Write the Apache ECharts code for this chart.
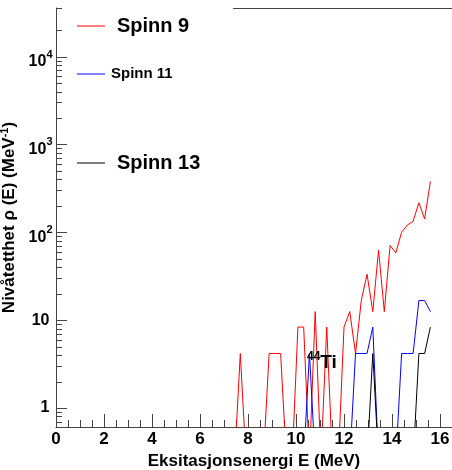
<!DOCTYPE html>
<html><head><meta charset="utf-8">
<script src="https://cdn.jsdelivr.net/npm/echarts@6/dist/echarts.min.js"></script>
<style>html,body{margin:0;padding:0;background:#fff}#c{width:452px;height:470px}</style>
</head><body><div id="c"></div>
<script>
// Bin centres (MeV)
const energy = [7.20,7.44,7.68,7.92,8.16,8.40,8.64,8.88,9.12,9.36,9.60,9.84,10.08,10.32,10.56,10.80,11.04,11.28,11.52,11.76,12.00,12.24,12.48,12.72,12.96,13.20,13.44,13.68,13.92,14.16,14.40,14.64,14.88,15.12,15.36,15.60];
// Level density (MeV^-1), 0 = empty bin
const spin9  = [0,0,4.17,0,0,0,0,4.17,4.17,4.17,0,0,8.33,8.33,0,12.5,0,8.33,0,0,8.33,12.5,4.17,16.7,33.3,12.5,62.5,12.5,70.8,58.3,100,120.8,133.3,216.7,141.7,379.2];
const spin11 = [0,0,0,0,0,0,0,0,0,0,0,0,0,0,4.17,0,0,0,0,0,0,0,4.17,4.17,4.17,8.33,0,0,0,0,4.17,4.17,4.17,16.7,16.7,12.5];
const spin13 = [0,0,0,0,0,0,0,0,0,0,0,0,0,0,0,0,0,0,0,0,0,0,0,0,0,4.17,0,0,0,0,0,0,0,4.17,4.17,8.33];
const seriesNames = ['Spinn 9','Spinn 11','Spinn 13'];
const yMajorTicks = [1,10,100,1000,10000];
const yMinorTicks = [0.7,0.8,0.9,2,3,4,5,6,7,8,9,20,30,40,50,60,70,80,90,200,300,400,500,600,700,800,900,2000,3000,4000,5000,6000,7000,8000,9000,20000];
const xTickLabels = [0,2,4,6,8,10,12,14,16];

const FONT = '"Liberation Sans", Arial, sans-serif';
const AXIS = '#444444';
const Y_MIN = 0.607, Y_MAX = 35700;
const EMPTY = 0.25; // empty bins drop below the axis floor (clipped), as in the log-scale histogram

function toData(vals){ return energy.map((e,i)=>[e, vals[i] > 0 ? vals[i] : EMPTY]); }

const chart = echarts.init(document.getElementById('c'), null, {renderer:'canvas'});

function legendCfg(name, top, size, lh, padLeft){
  return {data:[name], left:77, top:top, padding:0, icon:'rect', itemWidth:28, itemHeight:1, selectedMode:false,
    textStyle:{fontFamily:FONT, fontSize:size, fontWeight:'bold', color:'#000', lineHeight:lh, padding:[0,0,0,padLeft]}};
}

// y-axis ticks (log decades and 2..9 sub-ticks) placed through the axis scale
function tickSeries(values, len){
  return {type:'custom', silent:true, clip:false, z:5,
    data: values.map(v => [0, v]),
    renderItem:(params, api) => {
      const p = api.coord([api.value(0), api.value(1)]);
      const y = Math.round(p[1]) + 0.5;
      const x = Math.round(p[0]);
      return {type:'line', shape:{x1:x, y1:y, x2:x + len, y2:y},
        style:{stroke:AXIS, lineWidth:1}};
    }};
}

chart.setOption({
  animation:false,
  backgroundColor:'#fff',
  grid:{left:56, top:8, right:0, bottom:43, containLabel:false, outerBoundsMode:'none'},
  title:{text:'{s|44}{t|Ti}', left:307, top:351, padding:0,
    textStyle:{rich:{
      s:{fontFamily:FONT, fontSize:12, fontWeight:'bold', color:'#000', padding:[0,0,12,0]},
      t:{fontFamily:FONT, fontSize:19, fontWeight:'bold', color:'#000'}
    }}},
  legend:[
    legendCfg(seriesNames[0], 14, 20, 24, 7),
    legendCfg(seriesNames[1], 65, 15, 18, 1),
    legendCfg(seriesNames[2], 151, 20, 24, 7)
  ],
  xAxis:{type:'value', min:0, max:16.5, interval:2,
    name:'Eksitasjonsenergi E (MeV)', nameLocation:'middle', nameGap:23,
    nameTextStyle:{fontFamily:FONT, fontSize:17, fontWeight:'bold', color:'#000'},
    axisLine:{show:true, onZero:false, lineStyle:{color:AXIS, width:1}},
    axisTick:{show:true, inside:true, length:13, lineStyle:{color:AXIS}},
    minorTick:{show:true, splitNumber:4, length:7, lineStyle:{color:AXIS}},
    splitLine:{show:false},
    axisLabel:{fontFamily:FONT, fontSize:17, fontWeight:'bold', color:'#000', margin:4,
      formatter:v => xTickLabels.indexOf(v) >= 0 ? String(v) : ''}
  },
  yAxis:{type:'log', logBase:10, min:Y_MIN, max:Y_MAX, position:'left',
    name:'Nivåtetthet ρ (E) (MeV{sup|-1})', nameLocation:'middle', nameGap:28,
    nameTextStyle:{fontFamily:FONT, fontSize:17, fontWeight:'bold', color:'#000',
      rich:{sup:{fontFamily:FONT, fontSize:11, fontWeight:'bold', color:'#000', padding:[0,0,9,0]}}},
    axisLine:{show:true, onZero:false, lineStyle:{color:AXIS, width:1}},
    axisTick:{show:false},
    splitLine:{show:false},
    axisLabel:{margin:3.5, customValues:yMajorTicks,
      formatter:v => {
        const p = Math.round(Math.log10(v));
        if (p === 0) return '{p|1}';
        if (p === 1) return '{p|10}';
        return '{b|10}{sup|' + p + '}';
      },
      rich:{
        p:{fontFamily:FONT, fontSize:16, fontWeight:'bold', color:'#000', padding:[0,3,0,0]},
        b:{fontFamily:FONT, fontSize:16, fontWeight:'bold', color:'#000', padding:[11,0,0,0]},
        sup:{fontFamily:FONT, fontSize:11, fontWeight:'bold', color:'#000', padding:[0,0,4,0]}
      }}
  },
  graphic:[
    {type:'line', shape:{x1:233, y1:8.5, x2:452, y2:8.5}, style:{stroke:'#444', lineWidth:1}, z:100},
    {type:'line', shape:{x1:56, y1:8.5, x2:62, y2:8.5}, style:{stroke:AXIS, lineWidth:1}, z:100}
  ],
  series:[
    {name:seriesNames[0], type:'line', data:toData(spin9), symbol:'none', clip:true, lineStyle:{color:'#ff0000', width:1}, itemStyle:{color:'#ff0000'}},
    {name:seriesNames[1], type:'line', data:toData(spin11), symbol:'none', clip:true, lineStyle:{color:'#0000ff', width:1}, itemStyle:{color:'#0000ff'}},
    {name:seriesNames[2], type:'line', data:toData(spin13), symbol:'none', clip:true, lineStyle:{color:'#000000', width:1}, itemStyle:{color:'#000000'}},
    tickSeries(yMajorTicks, 11),
    tickSeries(yMinorTicks, 6)
  ]
});
</script></body></html>
